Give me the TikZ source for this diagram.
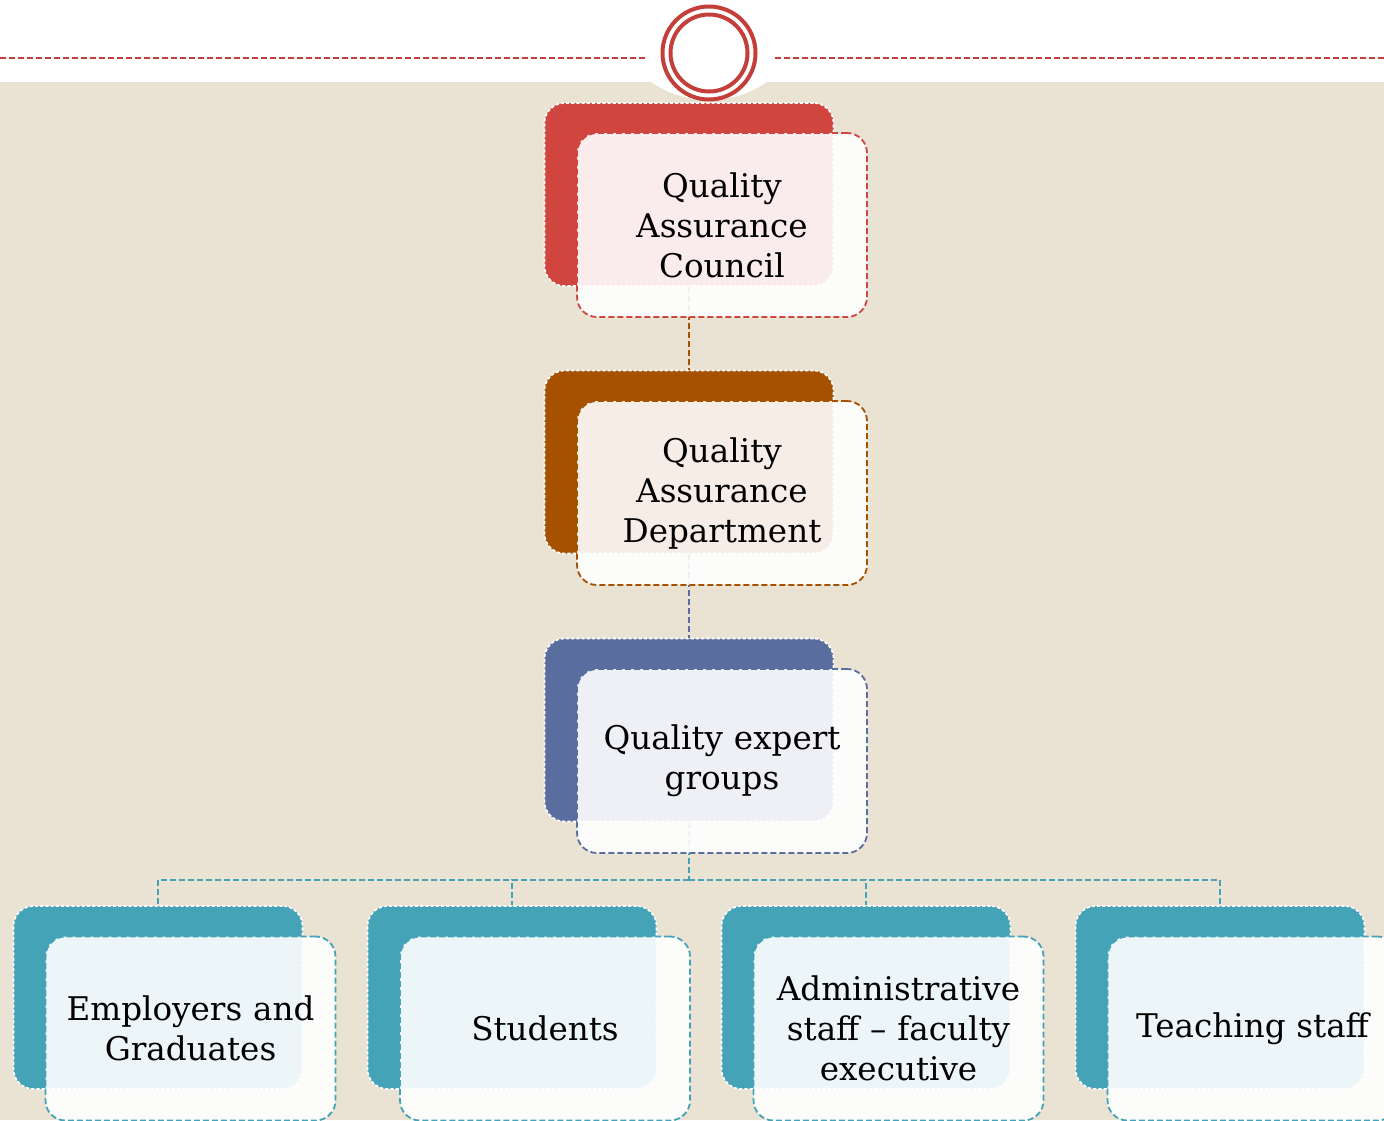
\documentclass[tikz,border=0pt]{standalone}
\usepackage{fontspec}
\setmainfont{DejaVu Serif}
\definecolor{beige}{HTML}{EAE2D3}
\definecolor{cred}{HTML}{D1453F}
\definecolor{cbrown}{HTML}{A55100}
\definecolor{cblue}{HTML}{596E9F}
\definecolor{cteal}{HTML}{45A3B7}
\definecolor{ring}{HTML}{C43F39}
\tikzset{
  backbox/.style={draw=white, fill=#1, line width=0.8pt, dash pattern=on 1.6pt off 1pt,
    rounded corners=10pt, minimum width=144.5pt, minimum height=91.5pt, inner sep=0pt},
  frontbox/.style={draw=#1, fill=white, fill opacity=0.9, text opacity=1, line width=0.9pt,
    dash pattern=on 3pt off 1.5pt, rounded corners=10pt, minimum width=145pt,
    minimum height=92pt, inner sep=0pt, align=center, text width=130pt,
    font=\fontsize{16.3}{20}\selectfont},
  conn/.style={draw=#1, line width=1pt, dash pattern=on 3pt off 1.5pt},
}
\begin{document}
\begin{tikzpicture}[x=0.5pt,y=-0.5pt]
\useasboundingbox (0,0) rectangle (1384,1120);
\clip (0,0) rectangle (1384,1120);
\fill[beige] (0,82) rectangle (1384,1120);
\fill[white] (709,-2) circle (102);
\draw[ring, line width=0.75pt, dash pattern=on 3pt off 1.5pt] (0,58) -- (645,58);
\draw[ring, line width=0.75pt, dash pattern=on 3pt off 1.5pt] (775,58) -- (1384,58);
\node[circle, draw=ring, line width=2pt, minimum size=46.5pt, inner sep=0pt] (ringo) at (709,53) {};
\node[circle, draw=ring, line width=2pt, minimum size=38.5pt, inner sep=0pt] (ringi) at (709,53) {};

% back boxes
\node[backbox=cred] (b1) at (689,194.5) {};
\node[backbox=cbrown] (b2) at (689,462) {};
\node[backbox=cblue] (b3) at (689,730) {};
\node[backbox=cteal] (bA) at (158,997.5) {};
\node[backbox=cteal] (bB) at (512,997.5) {};
\node[backbox=cteal] (bC) at (866,997.5) {};
\node[backbox=cteal] (bD) at (1220,997.5) {};

% connectors
\coordinate (bus) at (689,880);
\draw[conn=cbrown] (b1.south) -- (b2.north);
\draw[conn=cblue] (b2.south) -- (b3.north);
\draw[conn=cteal] (b3.south) -- (bus);
\draw[conn=cteal] (bus) -| (bA.north);
\draw[conn=cteal] (bus) -| (bB.north);
\draw[conn=cteal] (bus) -| (bC.north);
\draw[conn=cteal] (bus) -| (bD.north);

% front boxes
\node[frontbox=cred] (f1) at (722,225) {Quality\\Assurance\\Council};
\node[frontbox=cbrown] (f2) at (722,493) {Quality\\Assurance\\Department};
\node[frontbox=cblue] (f3) at (722,761) {Quality expert\\groups};
\node[frontbox=cteal] (fA) at (190.5,1028.5) {Employers and\\Graduates};
\node[frontbox=cteal] (fB) at (545,1028.5) {Students};
\node[frontbox=cteal] (fC) at (898.5,1028.5) {Administrative\\staff -- faculty\\executive};
\node[frontbox=cteal] (fD) at (1252.5,1028.5) {Teaching staff};
\end{tikzpicture}
\end{document}
